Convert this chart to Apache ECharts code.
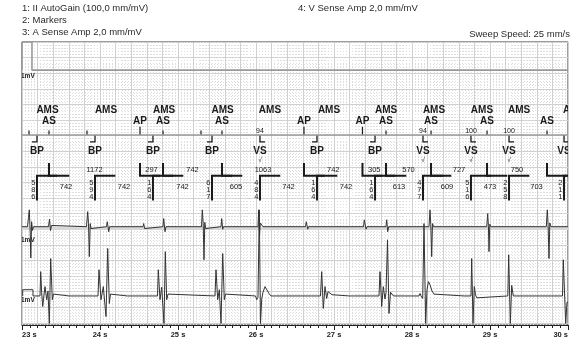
<!DOCTYPE html>
<html><head><meta charset="utf-8">
<script src="https://cdn.jsdelivr.net/npm/echarts@6/dist/echarts.min.js"></script>
<style>html,body{margin:0;padding:0;background:#fff}#c{width:579px;height:351px}</style>
</head><body><div id="c"></div>
<script>
// ---------------- data (time in s, amplitude in mV) ----------------
const timeTicks = [23, 24, 25, 26, 27, 28, 29, 30];
const atrialTimes  = [23.090, 23.346, 23.833, 24.513, 24.808, 25.295, 25.564, 26.615, 27.365, 27.667, 28.244, 28.962, 29.731];
const atrialLabels = ['', 'AS', '', 'AP', 'AS', '', 'AS', 'AP', 'AP', 'AS', 'AS', 'AS', 'AS'];
const ventTimes  = [23.192, 23.936, 24.679, 25.436, 26.051, 26.782, 27.526, 28.141, 28.756, 29.244, 29.949];
const ventLabels = ['BP', 'BP', 'BP', 'BP', 'VS', 'BP', 'BP', 'VS', 'VS', 'VS', 'VS'];
const ventAmps   = ['', '', '', '', '94', '', '', '94', '100', '100', ''];
const ventDigits = ['586', '594', '164', '617', '484', '164', '164', '477', '516', '258', '211'];
const amsTimes = [23.327, 24.077, 24.821, 25.571, 26.179, 26.936, 27.667, 28.282, 28.897, 29.372, 30.077];
const aaIntervals = [1172, 297, 742, 1063, 742, 305, 570, 727, 750];
const vvIntervals = [742, 742, 742, 605, 742, 742, 613, 609, 473, 703];

const atrialEgm = [
 [23.000,0],
 [23.0705,0],[23.0833,1.5],[23.0936,2.7],[23.1051,-1.0],[23.1128,-5.0],[23.1231,0.8],[23.1346,-0.6],[23.1474,0],
 [23.3397,0],[23.3526,1.2],[23.3654,-0.6],[23.3782,0.2],[23.3885,0],
 [23.8269,0],[23.8423,2.4],[23.8526,0.5],[23.8628,-4.8],[23.8744,0.5],[23.8846,-0.3],[23.8974,0],
 [24.0833,0],[24.0936,0.8],[24.1115,-0.8],[24.1231,0],
 [24.5513,0],[24.5603,0.5],[24.5718,-0.3],[24.5808,0],
 [24.8077,0],[24.8167,1.3],[24.8333,-0.8],[24.8462,0],
 [25.3013,0],[25.3115,2.7],[25.3231,0.5],[25.3333,-5.3],[25.3436,0.7],[25.3538,-0.3],[25.3654,0],
 [25.5513,0],[25.5603,1.3],[25.5731,-0.4],[25.5833,0],
 [26.0256,0],[26.0346,2.7],[26.0449,-1.5],[26.0551,0.6],[26.0705,0.3],[26.0897,0],
 [26.6346,0],[26.6449,0.8],[26.6628,-0.4],[26.6731,0],
 [27.3782,0],[27.3885,1.1],[27.4103,-0.4],[27.4231,0],
 [27.6667,0],[27.6756,1.1],[27.6885,-0.8],[27.7013,0],
 [28.2179,0],[28.2308,2.7],[28.2410,0.3],[28.2526,-4.8],[28.2628,0.5],[28.2756,0],
 [28.9577,0],[28.9705,2.1],[28.9795,0.2],[28.9872,-4.0],[28.9974,0.4],[29.0103,0],
 [29.7218,0],[29.7346,2.7],[29.7449,0.3],[29.7564,-5.1],[29.7667,0.6],[29.7821,0],
 [30.000,0]
];
const ventCal = [[23.009,0],[23.009,1],[23.141,1],[23.141,0]];
const ventEgm = [
 [23.2308,0],[23.2397,3.9],[23.2526,0.5],[23.2654,-1.7],[23.2821,0.2],[23.2949,1.5],[23.3167,-0.6],[23.3333,0.8],[23.3500,-4.4],[23.3679,6.0],[23.3885,-0.6],[23.4038,0.3],[23.4231,0],
 [23.6026,0],[23.6154,0.3],[23.6282,-0.2],[23.6410,0],
 [23.9744,0],[23.9872,4.2],[24.0128,-0.6],[24.0423,1.5],[24.0769,-3.3],[24.0987,7.6],[24.1192,-1.2],[24.1346,0.3],[24.1500,0],
 [24.3526,0],[24.3628,0.3],[24.3718,-0.2],[24.3846,0],
 [24.7372,0],[24.7474,4.2],[24.7692,-0.6],[24.7910,1.4],[24.8205,-4.4],[24.8372,7.1],[24.8551,-0.6],[24.8718,0.3],[24.8885,0],
 [25.4744,0],[25.4872,4.2],[25.5090,-0.6],[25.5295,1.0],[25.5513,-4.4],[25.5731,6.8],[25.5936,-0.6],[25.6090,0.3],[25.6244,0],
 [25.9936,0],[26.0090,-0.6],[26.0256,-0.2],[26.0423,13.8],[26.0577,-4.4],[26.0731,-0.5],[26.0897,0.6],[26.1154,1.5],[26.1410,1.2],[26.1667,0.4],[26.1923,0],
 [26.6154,0],[26.6282,0.2],[26.6410,-0.2],[26.6538,0],
 [26.8269,0],[26.8423,3.9],[26.8628,-2.0],[26.8846,1.5],[26.9064,-0.4],[26.9231,0.7],[26.9487,0.5],[26.9744,0.2],[26.9936,0],
 [27.1987,0],[27.2090,0.2],[27.2179,0],
 [27.5769,0],[27.5897,3.9],[27.6115,-1.7],[27.6321,1.5],[27.6538,-0.5],[27.6667,0.5],[27.6859,9.0],[27.7051,-2.8],[27.7244,0.6],[27.7436,0.3],[27.7628,0],
 [28.0897,0],[28.1026,0.4],[28.1154,0],
 [28.1282,0],[28.1372,-0.4],[28.1538,11.6],[28.1756,-4.4],[28.1923,1.0],[28.2115,2.3],[28.2308,1.8],[28.2564,0.8],[28.2821,0.3],[28.3077,0],
 [28.6667,0],[28.6795,0.3],[28.6923,0],
 [28.7564,0],[28.7654,6.0],[28.7821,-4.4],[28.7987,1.5],[28.8141,0.2],[28.8295,-0.3],[28.8462,0],
 [29.2282,0],[29.2397,6.6],[29.2603,-4.4],[29.2782,1.7],[29.2987,0],
 [29.9295,0],[29.9397,5.8],[29.9551,5.5],[29.9705,-4.4],[29.9872,-1.0],[30.000,-1.0]
];

// ---------------- layout (mm from the top of the strip; 5 mm = one big square) ----------------
const L = {
  c1Base: 9.0, c1Lbl: 10.9, calW: 0.128,
  amsRow: 22.0, asRow: 25.3, mkBase: 29.8, asTick: 1.4, apTick: 2.6,
  hookDrop: 2.2, hookLen: 0.064, ampRow: 28.4, vRow: 34.9, checkRow: 37.8,
  aBrTop: 38.8, aaRow: 41.0, brLine: 42.9, brLen: 0.26, vvRow: 46.5,
  digitRows: [45.2, 47.4, 49.6], digitDx: -0.047, vBrBottom: 50.8,
  aBase: 59.2, aLbl: 63.5, vBase: 81.4, vLbl: 82.6,
  gain: 2.0, yMax: 90.705
};
const FONT = '"Liberation Sans", Arial, sans-serif';
const INK = '#1a1a1a';

function txt(p, s, size, weight, align) {
  return {type: 'text', x: p[0], y: p[1], style: {text: s, fill: INK, fontSize: size, fontWeight: weight || 'normal',
    fontFamily: FONT, align: align || 'center', verticalAlign: 'middle'}};
}
function poly(pts, w) {
  return {type: 'polyline', shape: {points: pts}, style: {stroke: INK, lineWidth: w || 1, fill: null}};
}
const toY = (base) => (d) => [d[0], base - d[1] * L.gain];

const bracketA = atrialTimes.filter((t, i) => atrialLabels[i]);
const aaMid = aaIntervals.map((v, i) => [(bracketA[i] + bracketA[i + 1]) / 2, i]);
const vvMid = vvIntervals.map((v, i) => [(ventTimes[i] + ventTimes[i + 1]) / 2, i]);

const chart = echarts.init(document.getElementById('c'), null, {renderer: 'canvas'});
const custom = (data, fn) => ({type: 'custom', coordinateSystem: 'cartesian2d', xAxisIndex: 0, yAxisIndex: 0,
  clip: true, silent: true, data: data, renderItem: fn});

chart.setOption({
  animation: false,
  backgroundColor: '#fff',
  title: [
    {text: '1: II AutoGain (100,0 mm/mV)', left: 22, top: 3},
    {text: '2: Markers', left: 22, top: 15},
    {text: '3: A Sense Amp 2,0 mm/mV', left: 22, top: 27},
    {text: '4: V Sense Amp 2,0 mm/mV', left: 298, top: 3},
    {text: 'Sweep Speed: 25 mm/s', right: 9, top: 29}
  ].map(t => Object.assign(t, {padding: 0, textStyle: {fontSize: 9.5, fontWeight: 'normal', color: '#2a2a2a', fontFamily: FONT}})),
  grid: {left: 22, right: 11, top: 42, bottom: 26, show: true, borderColor: '#3a3a3a', borderWidth: 1, backgroundColor: '#fff'},
  xAxis: [
    {type: 'value', min: 23, max: 30, interval: 0.2, position: 'top',
     axisLine: {show: false}, axisTick: {show: false}, axisLabel: {show: false},
     splitLine: {show: true, lineStyle: {color: '#d0d0d0', width: 1}},
     minorTick: {show: false, splitNumber: 5},
     minorSplitLine: {show: true, lineStyle: {color: '#dedede', width: 1, type: [1, 2]}}},
    {type: 'value', min: 23, max: 30, interval: 1, position: 'bottom',
     axisLine: {show: true, lineStyle: {color: '#222', width: 1}},
     axisTick: {show: true, length: 5, lineStyle: {color: '#222'}},
     minorTick: {show: true, splitNumber: 10, length: 3, lineStyle: {color: '#222'}},
     splitLine: {show: false},
     axisLabel: {fontSize: 7.5, fontWeight: 'bold', color: '#222', fontFamily: FONT, margin: 6,
       alignMinLabel: 'left', alignMaxLabel: 'right',
       formatter: v => timeTicks.indexOf(Math.round(v)) >= 0 ? Math.round(v) + ' s' : ''}}
  ],
  yAxis: {type: 'value', inverse: true, min: 0, max: L.yMax, interval: 5,
    axisLine: {show: false}, axisTick: {show: false}, axisLabel: {show: false},
    splitLine: {show: true, lineStyle: {color: '#d0d0d0', width: 1}},
    minorTick: {show: false, splitNumber: 5},
    minorSplitLine: {show: true, lineStyle: {color: '#dedede', width: 1, type: [1, 2]}}},
  series: [
    {type: 'line', xAxisIndex: 1, showSymbol: false, silent: true,
     data: [[23, L.c1Base], [23, 0], [23 + L.calW, 0], [23 + L.calW, L.c1Base], [30, L.c1Base]],
     lineStyle: {color: '#9a9a9a', width: 1.6}},
    {type: 'line', xAxisIndex: 1, showSymbol: false, silent: true,
     data: [[23, L.mkBase], [30, L.mkBase]], lineStyle: {color: '#9a9a9a', width: 1.6}},
    {type: 'line', xAxisIndex: 1, showSymbol: false, silent: true,
     data: [[23, L.aBase + 0.5], [30, L.aBase + 0.5]], lineStyle: {color: '#d9d9d9', width: 3}},
    {type: 'line', xAxisIndex: 1, showSymbol: false, silent: true,
     data: atrialEgm.map(toY(L.aBase)), lineStyle: {color: '#333', width: 1}},
    {type: 'line', xAxisIndex: 1, showSymbol: false, silent: true,
     data: ventCal.concat(ventEgm).map(toY(L.vBase)), lineStyle: {color: '#333', width: 1}},
    custom(atrialTimes.map((t, i) => [t, i]), (p, api) => {
      const t = api.value(0), i = api.value(1), lab = atrialLabels[i];
      const h = lab === 'AP' ? L.apTick : L.asTick;
      const ch = [poly([api.coord([t, L.mkBase]), api.coord([t, L.mkBase - h])], 1.2)];
      if (lab) {
        ch.push(txt(api.coord([t, L.asRow]), lab, 10, 'bold'));
        ch.push(poly([api.coord([t, L.aBrTop]), api.coord([t, L.brLine]), api.coord([t + L.brLen, L.brLine])], 2));
      }
      return {type: 'group', children: ch};
    }),
    custom(ventTimes.map((t, i) => [t, i]), (p, api) => {
      const t = api.value(0), i = api.value(1), lab = ventLabels[i];
      const lo = L.mkBase + L.hookDrop;
      const hook = lab === 'BP'
        ? [api.coord([t - L.hookLen, lo]), api.coord([t, lo]), api.coord([t, L.mkBase])]
        : [api.coord([t, L.mkBase]), api.coord([t, lo]), api.coord([t + L.hookLen, lo])];
      const ch = [poly(hook, 1.3), txt(api.coord([t, L.vRow]), lab, 10, 'bold')];
      if (ventAmps[i]) {
        ch.push(txt(api.coord([t, L.ampRow]), ventAmps[i], 7));
        ch.push(txt(api.coord([t, L.checkRow]), '\u221A', 6.5));
      }
      ch.push(poly([api.coord([t, L.vBrBottom]), api.coord([t, L.brLine]), api.coord([t + L.brLen, L.brLine])], 2));
      ventDigits[i].split('').forEach((d, k) => ch.push(txt(api.coord([t + L.digitDx, L.digitRows[k]]), d, 7.5)));
      return {type: 'group', children: ch};
    }),
    custom(amsTimes.map((t, i) => [t, i]), (p, api) => txt(api.coord([api.value(0), L.amsRow]), 'AMS', 10, 'bold')),
    custom(aaMid, (p, api) => txt(api.coord([api.value(0), L.aaRow]), String(aaIntervals[api.value(1)]), 7.5)),
    custom(vvMid, (p, api) => txt(api.coord([api.value(0), L.vvRow]), String(vvIntervals[api.value(1)]), 7.5)),
    custom([[23, 0], [23, 1], [23, 2]], (p, api) => {
      const rows = [L.c1Lbl, L.aLbl, L.vLbl];
      const c = api.coord([23, rows[api.value(1)]]);
      return txt([c[0] - 1, c[1]], '1mV', 6.5, 'bold', 'left');
    })
  ]
});
</script></body></html>
